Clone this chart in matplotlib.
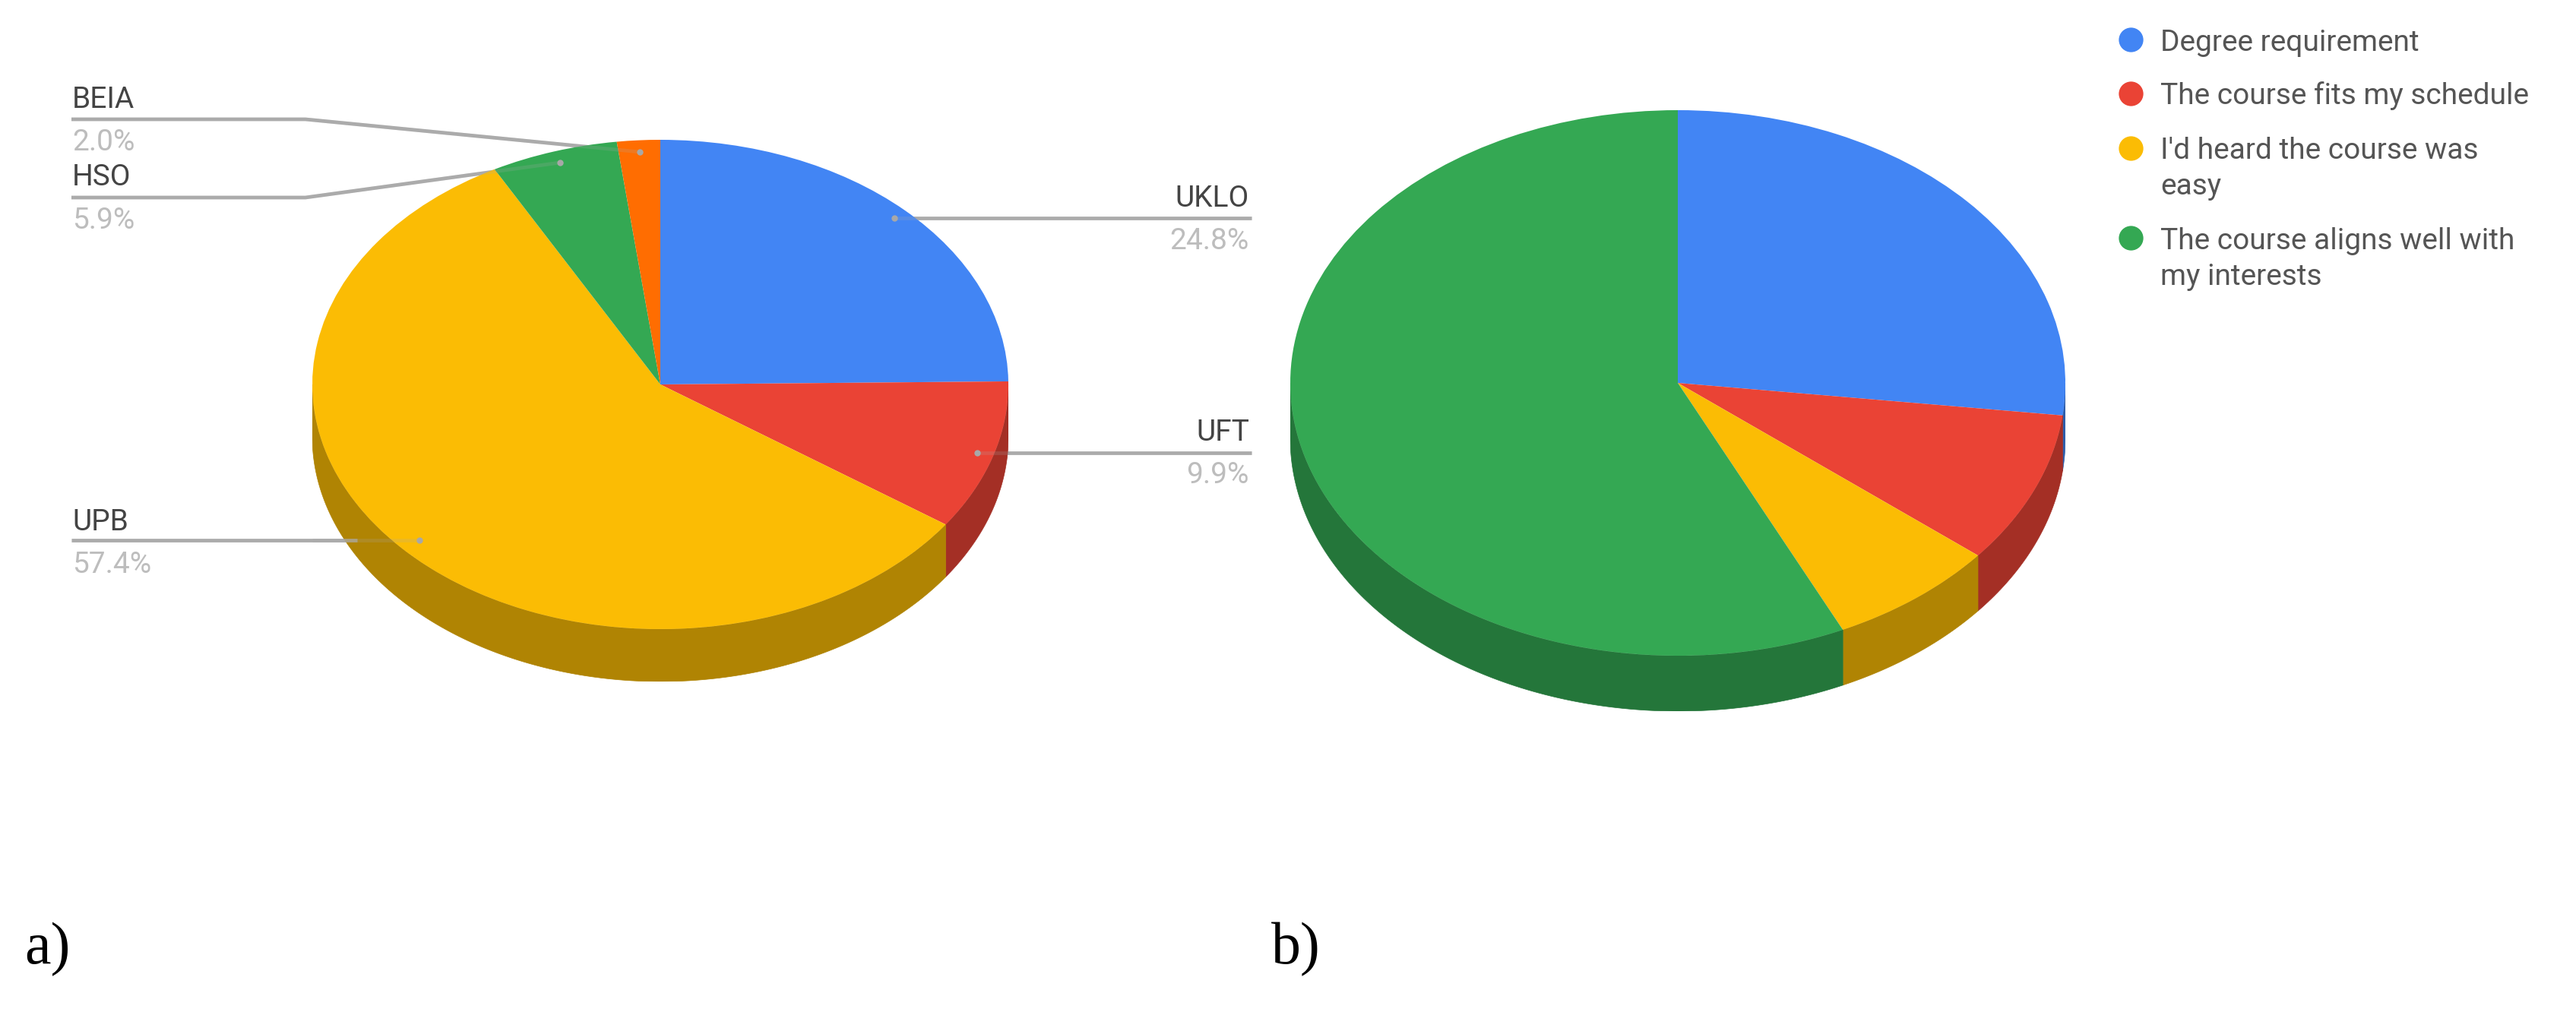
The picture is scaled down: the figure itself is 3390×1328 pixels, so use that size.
import numpy as np
import matplotlib
matplotlib.use("Agg")
import matplotlib.pyplot as plt

W, H = 3390, 1328
plt.rcParams['font.family'] = ['Roboto', 'DejaVu Sans']

# left pie
names_a = ["UKLO", "UFT", "UPB", "HSO", "BEIA"]
values_a = [24.8, 9.9, 57.4, 5.9, 2.0]
pct_a = ["24.8%", "9.9%", "57.4%", "5.9%", "2.0%"]
colors_a = ["#4285F4", "#EA4335", "#FBBC04", "#34A853", "#FF6D01"]
dark_a = ["#2E5DAA", "#A42F25", "#B08403", "#24763A", "#B34C01"]

# right pie
values_b = [26.9, 9.0, 7.1, 57.0]
colors_b = ["#4285F4", "#EA4335", "#FBBC04", "#34A853"]
dark_b = ["#2E5DAA", "#A42F25", "#B08403", "#24763A"]

legend_labels = ["Degree requirement", "The course fits my schedule",
                 "I'd heard the course was\neasy", "The course aligns well with\nmy interests"]


def pixel_axes():
    ax = fig.add_axes([0, 0, 1, 1])
    ax.set_xlim(0, W)
    ax.set_ylim(H, 0)
    ax.axis("off")
    return ax


def pie3d(cx, cy, rx, ry, depth, values, colors, dark):
    ax = fig.add_axes([(cx - rx) / W, 1 - (cy + ry + depth) / H, 2 * rx / W, (2 * ry + depth) / H])
    d = depth / ry
    edges = np.cumsum([0] + list(values)) / sum(values) * 360
    # side wall, only the front half can be seen
    for i in range(len(values)):
        a0 = max(edges[i], 90)
        a1 = min(edges[i + 1], 270)
        if a1 <= a0:
            continue
        t = np.radians(np.linspace(a0, a1, 200))
        xs = np.sin(t)
        ys = np.cos(t)
        ax.fill(np.r_[xs, xs[::-1]], np.r_[ys, ys[::-1] - d], color=dark[i], lw=0.5)
    ax.pie(values, colors=colors, startangle=90, counterclock=False, radius=1,
           wedgeprops={"linewidth": 0})
    ax.set_aspect("auto")
    ax.set_xlim(-1, 1)
    ax.set_ylim(-1 - d, 1)
    ax.axis("off")


fig = plt.figure(figsize=(W / 100, H / 100), dpi=100)

line_col = "#ABABAB"
fs = 28
leaders = {
    "UKLO": ([1177, 1647], [287, 287]),
    "UFT": ([1286, 1647], [596, 596]),
    "UPB": ([552, 94], [711, 711]),
    "HSO": ([737, 402, 94], [214, 260, 260]),
    "BEIA": ([842, 402, 94], [200, 157, 157]),
}

# lines go behind the pies, then a faint copy over them
under = pixel_axes()
for n in leaders:
    under.plot(leaders[n][0], leaders[n][1], color=line_col, lw=3.4, solid_capstyle="butt")

pie3d(869, 506, 458, 322, 69, values_a, colors_a, dark_a)
pie3d(2208, 504, 510, 359, 73, values_b, colors_b, dark_b)

top = pixel_axes()
for n in leaders:
    xs, ys = leaders[n]
    top.plot(xs, ys, color=line_col, lw=3.4, alpha=0.2, solid_capstyle="butt")
    top.plot(xs[0], ys[0], "o", color="#A8A8A8", ms=6, mew=0)
# the wall below UPB shows the line more strongly
top.plot([411, 470], [711, 711], color=line_col, lw=3.4, alpha=0.7, solid_capstyle="butt")

name_base = [272, 580, 698, 244, 142]
pct_base = [328, 636, 754, 301, 198]
for i, n in enumerate(names_a):
    right = i < 2
    x = 1644 if right else 95
    ha = "right" if right else "left"
    top.text(x, name_base[i], n, ha=ha, va="baseline", fontsize=fs, color="#444444")
    top.text(x, pct_base[i], pct_a[i], ha=ha, va="baseline", fontsize=fs, color="#BDBDBD")

# legend
dot_y = [52, 123, 195, 313]
text_y = [67, 137, 209, 328]
for i, lab in enumerate(legend_labels):
    top.scatter([2804], [dot_y[i]], s=540, color=colors_b[i], linewidths=0)
    for j, part in enumerate(lab.split("\n")):
        top.text(2843, text_y[i] + 47 * j, part, ha="left", va="baseline", fontsize=fs, color="#555555")

top.text(32, 1268, "a)", family="Liberation Serif", fontsize=56, color="black", va="baseline")
top.text(1673, 1268, "b)", family="Liberation Serif", fontsize=56, color="black", va="baseline")

fig.savefig("out.png", dpi=100, facecolor="white")
